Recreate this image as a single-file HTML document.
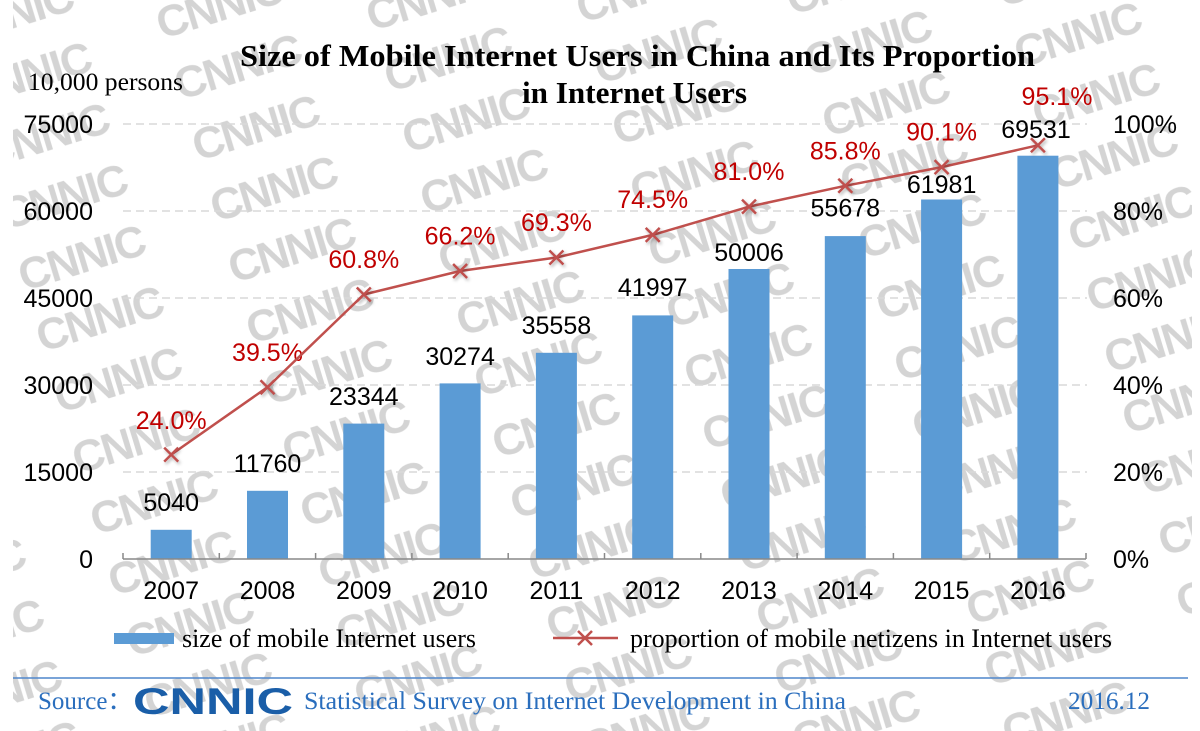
<!DOCTYPE html>
<html>
<head>
<meta charset="utf-8">
<style>
  html, body { margin: 0; padding: 0; background: #ffffff; }
  body { width: 1200px; height: 731px; overflow: hidden; }
  svg { display: block; }
</style>
</head>
<body>
<svg xmlns="http://www.w3.org/2000/svg" width="1200" height="731" viewBox="0 0 1200 731">
  <defs>
    <pattern id="wm" patternUnits="userSpaceOnUse" width="210" height="61" patternTransform="matrix(1,-0.038095,0.29508,1,-105,-13.5)">
      <g fill="#d4d4d4" font-family="'Liberation Sans', Arial, sans-serif" font-weight="bold" font-size="44" letter-spacing="-2" text-anchor="middle">
        <text transform="matrix(1.03098,-0.25309,0.01007,0.95668,105,30.5)" y="16">CNNIC</text>
        <text transform="matrix(1.03098,-0.25309,0.01007,0.95668,-105,30.5)" y="16">CNNIC</text>
        <text transform="matrix(1.03098,-0.25309,0.01007,0.95668,315,30.5)" y="16">CNNIC</text>
        <text transform="matrix(1.03098,-0.25309,0.01007,0.95668,105,-30.5)" y="16">CNNIC</text>
        <text transform="matrix(1.03098,-0.25309,0.01007,0.95668,-105,-30.5)" y="16">CNNIC</text>
        <text transform="matrix(1.03098,-0.25309,0.01007,0.95668,315,-30.5)" y="16">CNNIC</text>
        <text transform="matrix(1.03098,-0.25309,0.01007,0.95668,105,91.5)" y="16">CNNIC</text>
        <text transform="matrix(1.03098,-0.25309,0.01007,0.95668,-105,91.5)" y="16">CNNIC</text>
        <text transform="matrix(1.03098,-0.25309,0.01007,0.95668,315,91.5)" y="16">CNNIC</text>
      </g>
    </pattern>
    <filter id="sh" x="-50%" y="-50%" width="200%" height="200%">
      <feDropShadow dx="1.5" dy="2" stdDeviation="1.5" flood-color="#000" flood-opacity="0.3"/>
    </filter>
  </defs>

  <rect x="0" y="0" width="1200" height="731" fill="#ffffff"/>
  <!-- watermark -->
  <rect x="13" y="0" width="1179" height="731" fill="url(#wm)"/>

  <!-- title -->
  <g font-family="'Liberation Serif', 'Times New Roman', serif" font-weight="bold" font-size="31" fill="#000">
    <text x="240" y="66" textLength="795" lengthAdjust="spacingAndGlyphs">Size of Mobile Internet Users in China and Its Proportion</text>
    <text x="522" y="103" textLength="225" lengthAdjust="spacingAndGlyphs">in Internet Users</text>
  </g>
  <text x="28" y="90" font-family="'Liberation Serif', 'Times New Roman', serif" font-size="25" fill="#000" textLength="155" lengthAdjust="spacingAndGlyphs">10,000 persons</text>

  <!-- gridlines -->
  <g stroke="#d9d9d9" stroke-width="1.5" stroke-dasharray="8 5">
    <line x1="123" y1="124" x2="1087" y2="124"/>
    <line x1="123" y1="211" x2="1087" y2="211"/>
    <line x1="123" y1="298" x2="1087" y2="298"/>
    <line x1="123" y1="385" x2="1087" y2="385"/>
    <line x1="123" y1="472" x2="1087" y2="472"/>
  </g>

  <!-- bars -->
  <g fill="#5b9bd5">
    <rect x="150.7" y="529.8" width="41" height="29.2"/>
    <rect x="247.0" y="490.8" width="41" height="68.2"/>
    <rect x="343.3" y="423.6" width="41" height="135.4"/>
    <rect x="439.6" y="383.4" width="41" height="175.6"/>
    <rect x="535.9" y="352.8" width="41" height="206.2"/>
    <rect x="632.2" y="315.4" width="41" height="243.6"/>
    <rect x="728.5" y="269.0" width="41" height="290.0"/>
    <rect x="824.8" y="236.1" width="41" height="322.9"/>
    <rect x="921.1" y="199.5" width="41" height="359.5"/>
    <rect x="1017.4" y="155.7" width="41" height="403.3"/>
  </g>

  <!-- x axis -->
  <g stroke="#898989" stroke-width="1.5">
    <line x1="123" y1="559" x2="1086" y2="559"/>
    <line x1="123" y1="553" x2="123" y2="559"/>
    <line x1="219.3" y1="553" x2="219.3" y2="559"/>
    <line x1="315.6" y1="553" x2="315.6" y2="559"/>
    <line x1="411.9" y1="553" x2="411.9" y2="559"/>
    <line x1="508.2" y1="553" x2="508.2" y2="559"/>
    <line x1="604.5" y1="553" x2="604.5" y2="559"/>
    <line x1="700.8" y1="553" x2="700.8" y2="559"/>
    <line x1="797.1" y1="553" x2="797.1" y2="559"/>
    <line x1="893.4" y1="553" x2="893.4" y2="559"/>
    <line x1="989.7" y1="553" x2="989.7" y2="559"/>
    <line x1="1086" y1="553" x2="1086" y2="559"/>
  </g>

  <!-- axis labels -->
  <g font-family="'Liberation Sans', Arial, sans-serif" font-size="25" fill="#000">
    <g text-anchor="end">
      <text x="93" y="133">75000</text>
      <text x="93" y="220">60000</text>
      <text x="93" y="307">45000</text>
      <text x="93" y="394">30000</text>
      <text x="93" y="481">15000</text>
      <text x="93" y="568">0</text>
    </g>
    <g text-anchor="start">
      <text x="1113" y="133">100%</text>
      <text x="1113" y="220">80%</text>
      <text x="1113" y="307">60%</text>
      <text x="1113" y="394">40%</text>
      <text x="1113" y="481">20%</text>
      <text x="1113" y="568">0%</text>
    </g>
    <g text-anchor="middle">
      <text x="171.2" y="599">2007</text>
      <text x="267.5" y="599">2008</text>
      <text x="363.8" y="599">2009</text>
      <text x="460.1" y="599">2010</text>
      <text x="556.4" y="599">2011</text>
      <text x="652.7" y="599">2012</text>
      <text x="749.0" y="599">2013</text>
      <text x="845.3" y="599">2014</text>
      <text x="941.6" y="599">2015</text>
      <text x="1037.9" y="599">2016</text>
    </g>
    <!-- value labels -->
    <g text-anchor="middle">
      <text x="171.2" y="511">5040</text>
      <text x="267.5" y="472">11760</text>
      <text x="363.8" y="405">23344</text>
      <text x="460.1" y="365">30274</text>
      <text x="556.4" y="334">35558</text>
      <text x="652.7" y="296">41997</text>
      <text x="749.0" y="261">50006</text>
      <text x="845.3" y="216.5">55678</text>
      <text x="941.6" y="193">61981</text>
      <text x="1036" y="138">69531</text>
    </g>
    <!-- percent labels -->
    <g text-anchor="middle" fill="#c00000">
      <text x="171.2" y="429">24.0%</text>
      <text x="267.5" y="361">39.5%</text>
      <text x="363.8" y="268">60.8%</text>
      <text x="460.1" y="244.5">66.2%</text>
      <text x="556.4" y="231">69.3%</text>
      <text x="652.7" y="208">74.5%</text>
      <text x="749.0" y="180">81.0%</text>
      <text x="845.3" y="159.3">85.8%</text>
      <text x="941.6" y="140.6">90.1%</text>
      <text x="1057" y="105">95.1%</text>
    </g>
  </g>

  <!-- line series -->
  <polyline fill="none" stroke="#c0504d" stroke-width="2.5" stroke-linejoin="round"
    points="171.2,454.6 267.5,387.2 363.8,294.5 460.1,271.0 556.4,257.5 652.7,234.9 749.0,206.65 845.3,185.8 941.6,167.1 1037.9,145.3"/>
  <g stroke="#c0504d" stroke-width="2.5" filter="url(#sh)">
    <path d="M164.2,447.6 L178.2,461.6 M178.2,447.6 L164.2,461.6"/>
    <path d="M260.5,380.2 L274.5,394.2 M274.5,380.2 L260.5,394.2"/>
    <path d="M356.8,287.5 L370.8,301.5 M370.8,287.5 L356.8,301.5"/>
    <path d="M453.1,264.0 L467.1,278.0 M467.1,264.0 L453.1,278.0"/>
    <path d="M549.4,250.5 L563.4,264.5 M563.4,250.5 L549.4,264.5"/>
    <path d="M645.7,227.9 L659.7,241.9 M659.7,227.9 L645.7,241.9"/>
    <path d="M742.0,199.65 L756.0,213.65 M756.0,199.65 L742.0,213.65"/>
    <path d="M838.3,178.8 L852.3,192.8 M852.3,178.8 L838.3,192.8"/>
    <path d="M934.6,160.1 L948.6,174.1 M948.6,160.1 L934.6,174.1"/>
    <path d="M1030.9,138.3 L1044.9,152.3 M1044.9,138.3 L1030.9,152.3"/>
  </g>

  <!-- legend -->
  <rect x="114" y="633" width="60" height="11" fill="#5b9bd5"/>
  <g font-family="'Liberation Serif', 'Times New Roman', serif" font-size="26" fill="#000">
    <text x="182" y="647" textLength="294" lengthAdjust="spacingAndGlyphs">size of mobile Internet users</text>
    <text x="630" y="647" textLength="482" lengthAdjust="spacingAndGlyphs">proportion of mobile netizens in Internet users</text>
  </g>
  <line x1="553" y1="638" x2="618" y2="638" stroke="#c0504d" stroke-width="2.5"/>
  <path d="M578,631 L592,645 M592,631 L578,645" stroke="#c0504d" stroke-width="2.5"/>

  <!-- footer -->
  <line x1="13" y1="678" x2="1188" y2="678" stroke="#4f86cc" stroke-width="1.5"/>
  <g font-family="'Liberation Serif', 'Times New Roman', 'Noto Serif CJK SC', serif" font-size="25" fill="#2a6ebd">
    <text x="38" y="709">Source<tspan font-family="'Noto Sans CJK SC', sans-serif">：</tspan></text>
    <text x="304" y="709" textLength="542" lengthAdjust="spacingAndGlyphs">Statistical Survey on Internet Development in China</text>
    <text x="1068" y="709" textLength="82" lengthAdjust="spacingAndGlyphs">2016.12</text>
  </g>
  <text x="133" y="714" font-family="'Liberation Sans', Arial, sans-serif" font-weight="bold" font-size="37" fill="#1a5ea8" textLength="160" lengthAdjust="spacingAndGlyphs">CNNIC</text>
</svg>
</body>
</html>
